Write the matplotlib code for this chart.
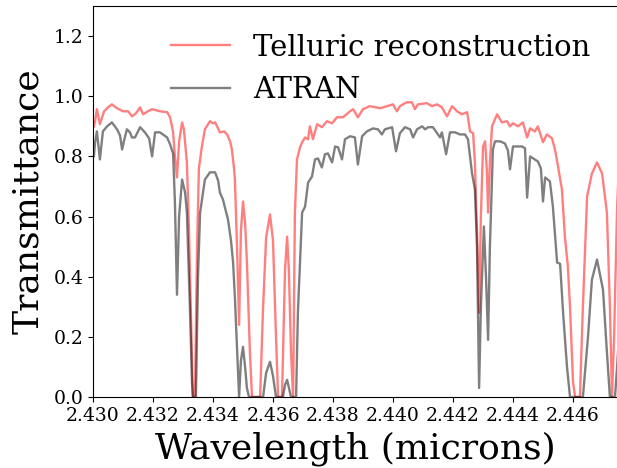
import matplotlib
matplotlib.use("Agg")
import matplotlib.pyplot as plt
import numpy as np

# Telluric reconstruction (wavelength in microns, transmittance)
tell_wl = [2.43003, 2.43007, 2.43013, 2.43023, 2.43037, 2.43050, 2.43063, 2.43080,
           2.43100, 2.43117, 2.43130, 2.43143, 2.43157, 2.43167, 2.43183, 2.43197,
           2.43223, 2.43247, 2.43257, 2.43267, 2.43273, 2.43280, 2.43287, 2.43297,
           2.43303, 2.43313, 2.43320, 2.43327, 2.43333, 2.43340, 2.43347, 2.43353,
           2.43363, 2.43373, 2.43390, 2.43400, 2.43407, 2.43417, 2.43423, 2.43437,
           2.43447, 2.43457, 2.43463, 2.43470, 2.43473, 2.43480, 2.43487, 2.43493,
           2.43500, 2.43507, 2.43513, 2.43523, 2.43530, 2.43557, 2.43567, 2.43577,
           2.43590, 2.43600, 2.43610, 2.43617, 2.43630, 2.43640, 2.43647, 2.43653,
           2.43660, 2.43667, 2.43673, 2.43680, 2.43690, 2.43697, 2.43707, 2.43717,
           2.43723, 2.43733, 2.43747, 2.43763, 2.43780, 2.43797, 2.43813, 2.43833,
           2.43857, 2.43867, 2.43883, 2.43900, 2.43923, 2.43957, 2.43980, 2.44000,
           2.44013, 2.44023, 2.44033, 2.44047, 2.44063, 2.44073, 2.44083, 2.44113,
           2.44130, 2.44147, 2.44163, 2.44180, 2.44197, 2.44213, 2.44230, 2.44247,
           2.44257, 2.44267, 2.44273, 2.44280, 2.44287, 2.44293, 2.44300, 2.44307,
           2.44313, 2.44317, 2.44323, 2.44330, 2.44347, 2.44363, 2.44380, 2.44390,
           2.44400, 2.44417, 2.44433, 2.44447, 2.44457, 2.44473, 2.44483, 2.44500,
           2.44513, 2.44530, 2.44540, 2.44550, 2.44563, 2.44573, 2.44583, 2.44590,
           2.44600, 2.44607, 2.44623, 2.44633, 2.44647, 2.44663, 2.44680, 2.44697,
           2.44713, 2.44723, 2.44730, 2.44737, 2.44747, 2.44750]
tell_tr = [0.900, 0.917, 0.957, 0.907, 0.950, 0.963, 0.973, 0.960,
           0.950, 0.950, 0.933, 0.943, 0.963, 0.940, 0.950, 0.957,
           0.950, 0.947, 0.930, 0.880, 0.800, 0.730, 0.850, 0.913,
           0.890, 0.780, 0.550, 0.250, 0.000, 0.000, 0.500, 0.760,
           0.833, 0.890, 0.917, 0.910, 0.913, 0.893, 0.880, 0.883,
           0.873, 0.850, 0.823, 0.760, 0.723, 0.500, 0.240, 0.550,
           0.650, 0.580, 0.450, 0.150, 0.000, 0.000, 0.300, 0.530,
           0.607, 0.520, 0.200, 0.000, 0.000, 0.420, 0.533, 0.420,
           0.150, 0.000, 0.613, 0.790, 0.830, 0.847, 0.863, 0.857,
           0.900, 0.857, 0.907, 0.897, 0.917, 0.910, 0.930, 0.930,
           0.950, 0.957, 0.930, 0.957, 0.967, 0.960, 0.967, 0.973,
           0.950, 0.967, 0.973, 0.980, 0.980, 0.957, 0.973, 0.977,
           0.967, 0.973, 0.963, 0.933, 0.967, 0.950, 0.940, 0.947,
           0.883, 0.877, 0.780, 0.550, 0.280, 0.600, 0.833, 0.850,
           0.750, 0.613, 0.780, 0.900, 0.940, 0.913, 0.917, 0.900,
           0.910, 0.900, 0.913, 0.863, 0.893, 0.883, 0.900, 0.847,
           0.873, 0.860, 0.823, 0.767, 0.690, 0.533, 0.433, 0.300,
           0.050, 0.000, 0.000, 0.300, 0.667, 0.743, 0.780, 0.743,
           0.613, 0.300, 0.000, 0.200, 0.630, 0.700]

# ATRAN model
atran_wl = [2.43003, 2.43007, 2.43013, 2.43023, 2.43033, 2.43047, 2.43063, 2.43080,
            2.43090, 2.43097, 2.43103, 2.43113, 2.43123, 2.43130, 2.43140, 2.43157,
            2.43173, 2.43187, 2.43197, 2.43207, 2.43223, 2.43247, 2.43257, 2.43267,
            2.43273, 2.43280, 2.43287, 2.43297, 2.43307, 2.43313, 2.43323, 2.43330,
            2.43333, 2.43343, 2.43350, 2.43357, 2.43373, 2.43390, 2.43407, 2.43417,
            2.43423, 2.43433, 2.43450, 2.43460, 2.43467, 2.43473, 2.43480, 2.43487,
            2.43493, 2.43500, 2.43507, 2.43513, 2.43520, 2.43567, 2.43577, 2.43590,
            2.43600, 2.43610, 2.43633, 2.43640, 2.43647, 2.43653, 2.43660, 2.43677,
            2.43683, 2.43690, 2.43697, 2.43707, 2.43717, 2.43730, 2.43740, 2.43750,
            2.43763, 2.43773, 2.43783, 2.43797, 2.43807, 2.43817, 2.43830, 2.43840,
            2.43857, 2.43873, 2.43883, 2.43897, 2.43913, 2.43933, 2.43950, 2.43963,
            2.43973, 2.43997, 2.44010, 2.44023, 2.44040, 2.44057, 2.44067, 2.44080,
            2.44097, 2.44107, 2.44117, 2.44133, 2.44157, 2.44163, 2.44177, 2.44190,
            2.44207, 2.44223, 2.44240, 2.44250, 2.44263, 2.44273, 2.44280, 2.44287,
            2.44293, 2.44303, 2.44310, 2.44317, 2.44323, 2.44333, 2.44340, 2.44357,
            2.44373, 2.44383, 2.44390, 2.44400, 2.44430, 2.44440, 2.44447, 2.44457,
            2.44483, 2.44493, 2.44500, 2.44507, 2.44523, 2.44533, 2.44547, 2.44557,
            2.44567, 2.44580, 2.44590, 2.44633, 2.44650, 2.44663, 2.44680, 2.44700,
            2.44713, 2.44723, 2.44740, 2.44747, 2.44750]
atran_tr = [0.800, 0.847, 0.883, 0.790, 0.883, 0.900, 0.913, 0.890,
            0.870, 0.823, 0.850, 0.890, 0.880, 0.863, 0.863, 0.897,
            0.880, 0.860, 0.800, 0.880, 0.880, 0.863, 0.840, 0.810,
            0.650, 0.340, 0.600, 0.723, 0.680, 0.613, 0.300, 0.050,
            0.000, 0.000, 0.400, 0.613, 0.723, 0.747, 0.747, 0.720,
            0.680, 0.657, 0.590, 0.520, 0.447, 0.330, 0.167, 0.000,
            0.120, 0.167, 0.100, 0.030, 0.000, 0.000, 0.080, 0.117,
            0.070, 0.000, 0.000, 0.040, 0.057, 0.030, 0.000, 0.000,
            0.280, 0.450, 0.613, 0.633, 0.713, 0.733, 0.790, 0.793,
            0.763, 0.807, 0.810, 0.780, 0.833, 0.830, 0.790, 0.857,
            0.867, 0.863, 0.773, 0.867, 0.883, 0.893, 0.890, 0.873,
            0.890, 0.897, 0.817, 0.877, 0.897, 0.890, 0.863, 0.890,
            0.900, 0.890, 0.897, 0.897, 0.863, 0.880, 0.807, 0.880,
            0.880, 0.873, 0.873, 0.857, 0.747, 0.690, 0.500, 0.030,
            0.300, 0.567, 0.400, 0.190, 0.500, 0.823, 0.850, 0.850,
            0.843, 0.820, 0.757, 0.833, 0.833, 0.827, 0.663, 0.800,
            0.783, 0.760, 0.650, 0.730, 0.717, 0.633, 0.447, 0.443,
            0.280, 0.100, 0.000, 0.000, 0.200, 0.390, 0.457, 0.357,
            0.150, 0.000, 0.000, 0.100, 0.150]

assert len(tell_wl) == len(tell_tr)
assert len(atran_wl) == len(atran_tr)

x_ticks = [2.430, 2.432, 2.434, 2.436, 2.438, 2.440, 2.442, 2.444, 2.446]
y_ticks = [0.0, 0.2, 0.4, 0.6, 0.8, 1.0, 1.2]

plt.rcParams['font.family'] = ['DejaVu Serif']
fig = plt.figure(figsize=(6.17, 4.68), dpi=100)
ax = fig.add_axes([93/617, 71/468, 525/617, 391/468])

ax.plot(tell_wl, tell_tr, color='red', alpha=0.5, lw=1.7,
        label='Telluric reconstruction')
ax.plot(atran_wl, atran_tr, color='black', alpha=0.5, lw=1.7,
        label='ATRAN')

ax.set_xlim(2.430, 2.4475)
ax.set_ylim(0, 1.3)
ax.set_xticks(x_ticks)
ax.set_xticklabels(['%.3f' % v for v in x_ticks])
ax.set_yticks(y_ticks)
ax.tick_params(labelsize=13.5)
ax.set_xlabel('Wavelength (microns)', fontsize=26, labelpad=5)
ax.set_ylabel('Transmittance', fontsize=26, labelpad=6)
ax.legend(loc='upper right', frameon=False, fontsize=21,
          borderaxespad=0.55, handlelength=2.0)

fig.savefig('out.png', dpi=100)
